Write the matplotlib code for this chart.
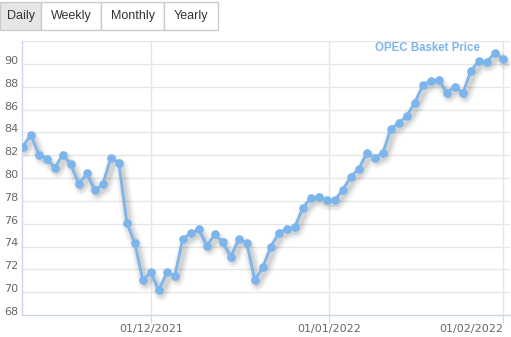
import numpy as np
import pandas as pd
import matplotlib
matplotlib.use('Agg')
import matplotlib.pyplot as plt
from matplotlib.patches import Rectangle
from matplotlib.transforms import offset_copy

# OPEC basket price, one value per trading day (9 Nov 2021 - 1 Feb 2022)
prices = [82.75, 83.78, 82.05, 81.70, 80.91, 82.05, 81.21, 79.45, 80.42, 78.93,
          79.45, 81.79, 81.35, 76.09, 74.28, 71.04, 71.74, 70.16, 71.74, 71.44,
          74.69, 75.16, 75.51, 74.07, 75.07, 74.37, 73.11, 74.69, 74.28, 71.04,
          72.21, 74.00, 75.19, 75.54, 75.69, 77.40, 78.23, 78.37, 78.05, 78.05,
          78.98, 80.12, 80.80, 82.20, 81.79, 82.17, 84.32, 84.80, 85.44, 86.61,
          88.13, 88.53, 88.57, 87.48, 88.01, 87.43, 89.38, 90.23, 90.17, 90.96,
          90.46]
dates = pd.bdate_range('2021-11-09', '2022-02-01')

tick_dates = ['2021-12-01', '2022-01-01', '2022-02-01']
tick_labels = ['01/12/2021', '01/01/2022', '01/02/2022']
y_ticks = [68, 70, 72, 74, 76, 78, 80, 82, 84, 86, 88, 90]
buttons = ['Daily', 'Weekly', 'Monthly', 'Yearly']
series_name = 'OPEC Basket Price'

blue = '#7cb5ec'
W, H = 511, 337

fig = plt.figure(figsize=(W / 100, H / 100), dpi=100)
ax = fig.add_axes([22 / W, (H - 315) / H, (510 - 22) / W, (315 - 41) / H])

# ordinal x axis: weekends are skipped, ticks interpolated between trading days
x = np.arange(len(dates))
day_num = dates.values.astype('datetime64[D]').astype(float)
tick_pos = [np.interp(np.datetime64(d, 'D').astype(float), day_num, x) for d in tick_dates]

# soft shadow under the line
for lw, a in [(10, 0.04), (7, 0.06), (4, 0.08)]:
    tr = offset_copy(ax.transData, fig=fig, x=2.5, y=-4, units='dots')
    ax.plot(x, prices, color='#000000', lw=lw, alpha=a, transform=tr,
            solid_capstyle='round', solid_joinstyle='round', zorder=2)

ax.plot(x, prices, color=blue, lw=2, marker='o', markersize=6.2,
        markeredgewidth=0, zorder=3)

ax.set_xlim(-0.1, 60.9)
ax.set_ylim(68, 92)

# grid
for v in y_ticks[1:] + [92]:
    ax.axhline(v, color='#e6e6e6', lw=1, zorder=1)
for p in tick_pos:
    ax.axvline(p, color='#e6e6e6', lw=1, zorder=1)

for s in ['top', 'right']:
    ax.spines[s].set_visible(False)
for s in ['left', 'bottom']:
    ax.spines[s].set_color('#ccd6eb')
    ax.spines[s].set_linewidth(1)

ax.set_xticks(tick_pos)
ax.set_xticklabels(tick_labels)
ax.tick_params(axis='x', length=5.8, color='#ccd6eb', pad=0.5, labelsize=8,
               labelcolor='#666666')
ax.get_xticklabels()[-1].set_ha('right')

ax.set_yticks(y_ticks)
ax.set_yticklabels([str(v) for v in y_ticks], ha='left', va='baseline')
ax.tick_params(axis='y', length=0, pad=13, labelsize=8, labelcolor='#666666')

ax.text(480 / W, (H - 48) / H, series_name, transform=fig.transFigure,
        ha='right', va='center', color=blue, fontsize=8.3, fontweight='bold',
        family='Liberation Sans')

# range selector buttons
edges = [0, 41, 101, 164, 218]
for i, name in enumerate(buttons):
    x0, x1 = edges[i], edges[i + 1]
    fc = '#e6e6e6' if i == 0 else 'white'
    fig.patches.append(Rectangle((x0 / W, (H - 30) / H), (x1 - x0) / W, 28 / H,
                                 transform=fig.transFigure, facecolor=fc,
                                 edgecolor='#cccccc', lw=1))
    fig.text((x0 + x1) / 2 / W, (H - 16) / H, name, ha='center', va='center',
             fontsize=9, color='#333333', family='Liberation Sans')

fig.savefig('out.png', dpi=100)
